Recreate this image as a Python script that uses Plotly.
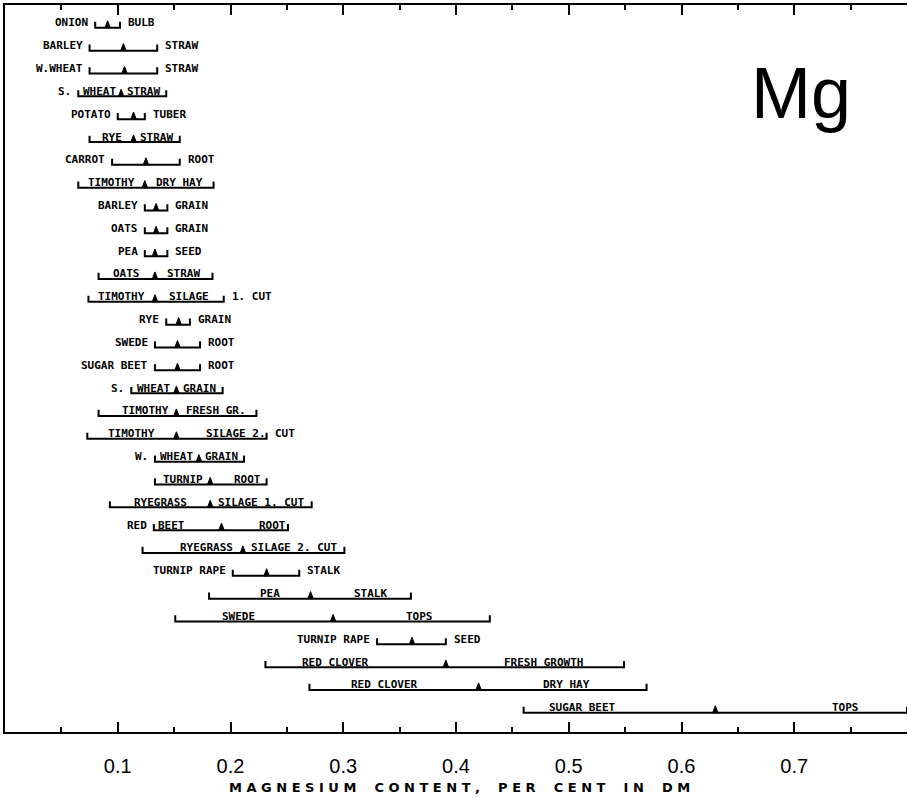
import plotly.graph_objects as go

# Magnesium content (% of dry matter): range and mean per crop
pre_labels = ["ONION", "BARLEY", "W.WHEAT", "S.", "POTATO", "", "CARROT", "",
              "BARLEY", "OATS", "PEA", "", "", "RYE", "SWEDE", "SUGAR BEET",
              "S.", "", "", "W.", "", "", "RED", "", "TURNIP RAPE", "", "",
              "TURNIP RAPE", "", "", ""]
left_labels = ["", "", "", "WHEAT", "", "RYE", "", "TIMOTHY",
               "", "", "", "OATS", "TIMOTHY", "", "", "",
               "WHEAT", "TIMOTHY", "TIMOTHY", "WHEAT", "TURNIP", "RYEGRASS", "BEET",
               "RYEGRASS", "", "PEA", "SWEDE", "", "RED CLOVER", "RED CLOVER",
               "SUGAR BEET"]
right_labels = ["", "", "", "STRAW", "", "STRAW", "", "DRY HAY",
                "", "", "", "STRAW", "SILAGE", "", "", "",
                "GRAIN", "FRESH GR.", "SILAGE 2.", "GRAIN", "ROOT", "SILAGE 1. CUT",
                "ROOT", "SILAGE 2. CUT", "", "STALK", "TOPS", "", "FRESH GROWTH",
                "DRY HAY", "TOPS"]
post_labels = ["BULB", "STRAW", "STRAW", "", "TUBER", "", "ROOT", "",
               "GRAIN", "GRAIN", "SEED", "", "1. CUT", "GRAIN", "ROOT", "ROOT",
               "", "", "CUT", "", "", "", "", "", "STALK", "", "", "SEED", "",
               "", ""]

mg_min = [0.080, 0.075, 0.075, 0.065, 0.100, 0.075, 0.095, 0.065,
          0.124, 0.124, 0.124, 0.083, 0.074, 0.143, 0.133, 0.133,
          0.112, 0.083, 0.073, 0.133, 0.133, 0.093, 0.132, 0.122,
          0.202, 0.181, 0.151, 0.330, 0.231, 0.270, 0.460]
mg_mean = [0.091, 0.105, 0.106, 0.103, 0.114, 0.114, 0.125, 0.124,
           0.134, 0.134, 0.133, 0.133, 0.133, 0.154, 0.153, 0.153,
           0.152, 0.152, 0.152, 0.172, 0.182, 0.182, 0.192, 0.211,
           0.232, 0.271, 0.291, 0.361, 0.391, 0.420, 0.630]
mg_max = [0.102, 0.135, 0.135, 0.143, 0.124, 0.155, 0.155, 0.185,
          0.144, 0.144, 0.144, 0.184, 0.194, 0.164, 0.173, 0.173,
          0.193, 0.223, 0.232, 0.212, 0.232, 0.272, 0.251, 0.301,
          0.261, 0.360, 0.430, 0.391, 0.549, 0.569, 0.800]

x_ticks = [0.1, 0.2, 0.3, 0.4, 0.5, 0.6, 0.7]
x_ticktext = ["0.1", "0.2", "0.3", "0.4", "0.5", "0.6", "0.7"]

# pixel nudges for the in-bracket labels (row index -> (left, right))
label_nudge = {17: (8, 0), 18: (0, 15), 20: (0, 9), 22: (-16, 18), 23: (14, 0),
               25: (10, 10), 26: (-16, 8), 28: (-20, 9), 29: (-9, 4),
               30: (-37, 34)}

n = len(mg_min)
rows = list(range(1, n + 1))

BRACKET_H = 0.27   # bracket arm height, in row units
TRI_H = 0.31       # triangle height, in row units
TRI_HW = 0.0024    # triangle half width, in x units

bx, by = [], []
for lo, hi, y in zip(mg_min, mg_max, rows):
    bx += [lo, lo, hi, hi, None]
    by += [y - BRACKET_H, y, y, y - BRACKET_H, None]

tx, ty = [], []
for m, y in zip(mg_mean, rows):
    tx += [m - TRI_HW, m, m + TRI_HW, m - TRI_HW, None]
    ty += [y, y - TRI_H, y, y, None]

fig = go.Figure()
fig.add_trace(go.Scatter(x=bx, y=by, mode="lines",
                         line=dict(color="black", width=2),
                         cliponaxis=False, hoverinfo="skip", showlegend=False))
fig.add_trace(go.Scatter(x=tx, y=ty, mode="lines", fill="toself",
                         fillcolor="black", line=dict(color="black", width=1),
                         cliponaxis=False, hoverinfo="skip", showlegend=False))

lab_font = dict(family="DejaVu Sans Mono", size=11, color="black")
TEXT_SHIFT = 5
annotations = []
for i in range(n):
    y = rows[i]
    lo, m, hi = mg_min[i], mg_mean[i], mg_max[i]
    nl, nr = label_nudge.get(i, (0, 0))
    if pre_labels[i]:
        annotations.append(dict(x=lo, y=y, text="<b>%s</b>" % pre_labels[i],
                                xanchor="right", yanchor="middle", xshift=-5,
                                yshift=TEXT_SHIFT, showarrow=False, font=lab_font))
    if post_labels[i]:
        annotations.append(dict(x=hi, y=y, text="<b>%s</b>" % post_labels[i],
                                xanchor="left", yanchor="middle", xshift=6,
                                yshift=TEXT_SHIFT, showarrow=False, font=lab_font))
    if left_labels[i]:
        annotations.append(dict(x=(lo + m) / 2, y=y, text="<b>%s</b>" % left_labels[i],
                                xanchor="center", yanchor="middle", xshift=nl,
                                yshift=TEXT_SHIFT, showarrow=False, font=lab_font))
    if right_labels[i]:
        annotations.append(dict(x=(m + hi) / 2, y=y, text="<b>%s</b>" % right_labels[i],
                                xanchor="center", yanchor="middle", xshift=nr,
                                yshift=TEXT_SHIFT, showarrow=False, font=lab_font))

# element symbol
annotations.append(dict(x=0.8825, y=0.879, xref="paper", yref="paper", text="Mg",
                        showarrow=False, xanchor="center", yanchor="middle",
                        font=dict(family="Liberation Sans", size=72, color="black")))

# spaced-out axis title
nb = "\u00a0"
words = ["MAGNESIUM", "CONTENT,", "PER", "CENT", "IN", "DM"]
title = (nb * 4).join(nb.join(w) for w in words)
annotations.append(dict(x=0.5044, y=-0.0757, xref="paper", yref="paper",
                        text="<b>%s</b>" % title, showarrow=False,
                        xanchor="center", yanchor="middle",
                        font=dict(family="DejaVu Sans", size=13, color="black")))

fig.update_layout(
    width=908, height=807,
    margin=dict(l=5, r=1, t=5, b=75),
    paper_bgcolor="white", plot_bgcolor="white",
    annotations=annotations,
    xaxis=dict(range=[0, 0.8], showgrid=False, zeroline=False,
               showline=True, linecolor="black", linewidth=2, mirror="ticks",
               ticks="inside", ticklen=10, tickwidth=1.5, tickcolor="black",
               tickvals=x_ticks, ticktext=x_ticktext, ticklabelstandoff=15,
               tickfont=dict(family="Liberation Sans", size=20, color="black"),
               minor=dict(ticks="inside", ticklen=5, tickwidth=1.5,
                          tickcolor="black", tick0=0, dtick=0.05)),
    yaxis=dict(range=[31.84, 0], showgrid=False, zeroline=False,
               showline=True, linecolor="black", linewidth=2,
               showticklabels=False, ticks=""),
)

fig.write_html("out.html")
